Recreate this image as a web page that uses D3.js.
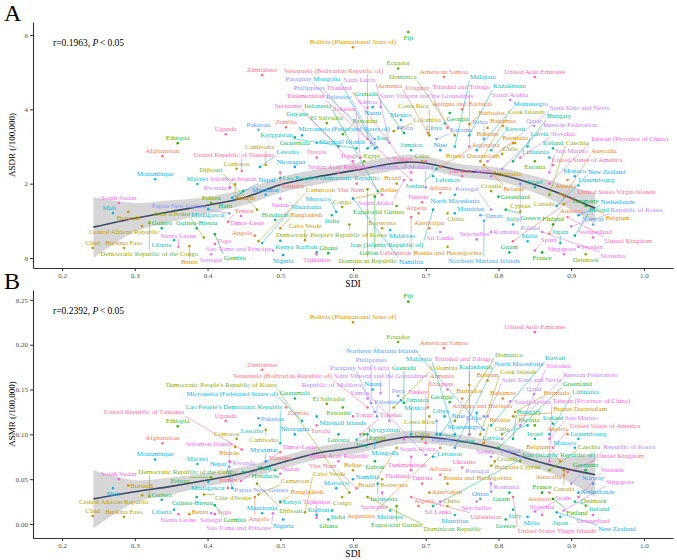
<!DOCTYPE html>
<html><head><meta charset="utf-8">
<script src="https://cdn.jsdelivr.net/npm/d3@7"></script>
<style>body{margin:0;background:#fff}</style>
</head><body>
<script>
const countries = [
"Afghanistan","Albania","Algeria","American Samoa","Andorra","Angola","Antigua and Barbuda","Argentina","Armenia","Australia",
"Austria","Azerbaijan","Bahamas","Bahrain","Bangladesh","Barbados","Belarus","Belgium","Belize","Benin",
"Bermuda","Bhutan","Bolivia (Plurinational State of)","Bosnia and Herzegovina","Botswana","Brazil","Brunei Darussalam","Bulgaria","Burkina Faso","Burundi",
"Cabo Verde","Cambodia","Cameroon","Canada","Central African Republic","Chad","Chile","China","Colombia","Comoros",
"Congo","Cook Islands","Costa Rica","Côte d'Ivoire","Croatia","Cuba","Cyprus","Czechia","Democratic People's Republic of Korea","Democratic Republic of the Congo",
"Denmark","Djibouti","Dominica","Dominican Republic","Ecuador","Egypt","El Salvador","Equatorial Guinea","Eritrea","Estonia",
"Eswatini","Ethiopia","Fiji","Finland","France","Gabon","Gambia","Georgia","Germany","Ghana",
"Greece","Greenland","Grenada","Guam","Guatemala","Guinea","Guinea-Bissau","Guyana","Haiti","Honduras",
"Hungary","Iceland","India","Indonesia","Iran (Islamic Republic of)","Iraq","Ireland","Israel","Italy","Jamaica",
"Japan","Jordan","Kazakhstan","Kenya","Kiribati","Kuwait","Kyrgyzstan","Lao People's Democratic Republic","Latvia","Lebanon",
"Lesotho","Liberia","Libya","Lithuania","Luxembourg","Madagascar","Malawi","Malaysia","Maldives","Mali",
"Malta","Marshall Islands","Mauritania","Mauritius","Mexico","Micronesia (Federated States of)","Monaco","Mongolia","Montenegro","Morocco",
"Mozambique","Myanmar","Namibia","Nauru","Nepal","Netherlands","New Zealand","Nicaragua","Nigeria","Niue",
"North Macedonia","Northern Mariana Islands","Norway","Oman","Pakistan","Palau","Palestine","Panama","Papua New Guinea","Paraguay",
"Peru","Philippines","Poland","Portugal","Qatar","Republic of Korea","Republic of Moldova","Romania","Russian Federation","Rwanda",
"Saint Kitts and Nevis","Saint Lucia","Saint Vincent and the Grenadines","Samoa","San Marino","Sao Tome and Principe","Saudi Arabia","Senegal","Serbia","Seychelles",
"Sierra Leone","Singapore","Slovakia","Slovenia","Solomon Islands","South Africa","South Sudan","Spain","Sri Lanka","Sudan",
"Suriname","Sweden","Switzerland","Syrian Arab Republic","Taiwan (Province of China)","Tajikistan","Thailand","Timor-Leste","Togo","Tokelau",
"Tonga","Trinidad and Tobago","Tunisia","Turkey","Turkmenistan","Tuvalu","Uganda","Ukraine","United Arab Emirates","United Kingdom",
"United Republic of Tanzania","United States of America","United States Virgin Islands","Uruguay","Uzbekistan","Vanuatu","Venezuela (Bolivarian Republic of)","Viet Nam","Yemen","Zambia","Zimbabwe"
];
const sdi = [
0.338,0.72,0.69,0.725,0.87,0.465,0.75,0.72,0.703,0.89,
0.895,0.705,0.806,0.785,0.50,0.76,0.78,0.885,0.60,0.375,
0.823,0.438,0.60,0.73,0.64,0.66,0.82,0.795,0.285,0.291,
0.534,0.48,0.47,0.89,0.31,0.242,0.805,0.73,0.656,0.44,
0.585,0.775,0.705,0.395,0.79,0.695,0.83,0.87,0.595,0.32,
0.92,0.468,0.74,0.62,0.662,0.615,0.564,0.66,0.405,0.85,
0.586,0.359,0.676,0.875,0.86,0.63,0.41,0.733,0.92,0.566,
0.81,0.80,0.67,0.815,0.52,0.337,0.385,0.58,0.449,0.493,
0.82,0.875,0.571,0.634,0.71,0.62,0.905,0.85,0.82,0.68,
0.885,0.715,0.76,0.50,0.55,0.79,0.605,0.50,0.84,0.71,
0.472,0.354,0.726,0.87,0.91,0.401,0.386,0.74,0.651,0.27,
0.84,0.55,0.475,0.74,0.666,0.53,0.905,0.63,0.77,0.577,
0.328,0.48,0.60,0.627,0.434,0.91,0.88,0.52,0.504,0.72,
0.74,0.78,0.93,0.775,0.47,0.78,0.633,0.715,0.43,0.63,
0.662,0.625,0.83,0.79,0.849,0.90,0.70,0.79,0.805,0.431,
0.785,0.65,0.638,0.62,0.87,0.49,0.816,0.405,0.79,0.77,
0.36,0.89,0.83,0.86,0.43,0.67,0.278,0.85,0.72,0.50,
0.64,0.91,0.93,0.58,0.87,0.55,0.68,0.446,0.41,0.61,
0.60,0.76,0.695,0.70,0.68,0.55,0.425,0.75,0.85,0.895,
0.447,0.875,0.82,0.73,0.68,0.50,0.62,0.605,0.428,0.508,0.475
];
const asdr = [
2.74,1.75,1.20,4.87,0.65,0.60,4.00,2.45,3.36,1.65,
2.10,0.80,3.55,3.50,0.80,3.60,2.50,1.72,1.60,0.32,
3.10,1.98,5.67,0.30,0.80,2.00,3.09,2.30,0.27,1.24,
0.48,2.50,0.45,1.45,0.86,0.27,2.80,1.20,3.41,2.40,
1.37,2.60,3.30,0.55,1.80,2.60,1.25,1.70,0.90,0.95,
0.10,1.30,3.30,1.85,5.10,2.60,3.63,1.40,1.48,2.60,
3.33,3.09,6.08,0.90,0.15,1.65,0.64,3.90,1.40,0.13,
1.30,1.65,3.36,0.15,3.25,0.80,0.80,3.00,1.80,1.02,
2.60,2.95,1.15,1.80,1.30,2.95,0.60,1.90,0.90,2.90,
0.40,2.40,3.30,0.46,0.15,2.90,2.95,2.15,3.00,2.20,
2.45,0.48,3.62,2.70,1.95,1.32,1.99,3.00,0.75,1.21,
0.45,3.10,0.40,1.20,3.71,3.30,2.20,2.95,2.90,1.24,
2.12,1.70,1.60,4.06,1.62,1.15,1.40,2.45,0.08,2.90,
1.70,1.00,0.90,1.15,3.45,3.20,2.98,3.20,1.20,3.20,
3.50,3.10,2.00,1.30,3.55,0.85,1.90,0.70,2.40,1.90,
2.60,3.10,4.06,4.05,2.30,0.20,4.25,0.10,2.20,0.50,
0.30,0.10,2.70,0.70,1.88,2.10,1.48,0.20,0.70,1.60,
1.70,0.30,0.55,2.30,2.00,0.10,2.30,1.13,0.38,2.70,
2.60,3.00,1.50,2.60,2.10,2.70,3.33,2.20,4.87,1.10,
2.34,2.50,0.45,3.50,1.10,2.30,3.20,2.00,0.97,3.52,4.92
];
const asmr = [
0.090,0.055,0.020,0.196,0.035,0.030,0.140,0.085,0.130,0.055,
0.100,0.035,0.140,0.160,0.024,0.155,0.090,0.070,0.060,0.011,
0.125,0.086,0.225,0.045,0.050,0.085,0.120,0.070,0.008,0.043,
0.013,0.105,0.033,0.060,0.032,0.009,0.100,0.020,0.130,0.095,
0.030,0.100,0.120,0.033,0.065,0.095,0.070,0.060,0.035,0.031,
0.020,0.045,0.115,0.030,0.203,0.100,0.134,0.020,0.052,0.110,
0.130,0.109,0.248,0.028,0.035,0.070,0.021,0.136,0.060,0.005,
0.005,0.085,0.135,0.035,0.140,0.027,0.030,0.100,0.058,0.060,
0.095,0.112,0.015,0.045,0.020,0.100,0.025,0.095,0.016,0.100,
0.008,0.100,0.100,0.025,0.010,0.110,0.094,0.090,0.110,0.075,
0.110,0.016,0.120,0.100,0.095,0.047,0.067,0.100,0.015,0.040,
0.008,0.120,0.012,0.010,0.138,0.115,0.085,0.090,0.124,0.040,
0.072,0.070,0.050,0.150,0.040,0.035,0.013,0.100,0.005,0.100,
0.085,0.105,0.045,0.028,0.118,0.120,0.120,0.115,0.064,0.125,
0.143,0.135,0.075,0.036,0.145,0.045,0.077,0.045,0.095,0.069,
0.120,0.115,0.146,0.140,0.095,0.012,0.137,0.012,0.075,0.025,
0.011,0.015,0.110,0.010,0.070,0.095,0.050,0.014,0.025,0.056,
0.035,0.030,0.010,0.070,0.070,0.007,0.075,0.048,0.011,0.100,
0.120,0.100,0.045,0.090,0.060,0.110,0.115,0.063,0.214,0.058,
0.083,0.085,0.030,0.150,0.030,0.080,0.130,0.040,0.040,0.130,0.172
];
const xTicks = [0.2,0.3,0.4,0.5,0.6,0.7,0.8,0.9,1.0];
const yTicksA = [0,2,4,6];
const yTicksB = [0,0.05,0.10,0.15,0.20,0.25];
// fitted smooth curves
const fitSdi = [0.243,0.30,0.35,0.40,0.45,0.50,0.55,0.60,0.65,0.675,0.70,0.75,0.80,0.84,0.88,0.933];
const fitA   = [0.83,1.07,1.25,1.42,1.62,1.97,2.18,2.35,2.53,2.58,2.55,2.35,2.25,2.04,1.77,1.34];
const fitALo = [0.00,0.70,0.97,1.20,1.42,1.75,1.97,2.15,2.33,2.40,2.38,2.17,2.07,1.83,1.50,0.94];
const fitAHi = [1.64,1.48,1.55,1.65,1.84,2.18,2.38,2.55,2.72,2.77,2.73,2.52,2.43,2.25,2.04,1.74];
const fitB   = [0.028,0.036,0.042,0.049,0.057,0.068,0.079,0.085,0.094,0.097,0.097,0.092,0.084,0.073,0.064,0.055];
const fitBLo = [-0.005,0.024,0.033,0.042,0.050,0.061,0.072,0.078,0.087,0.090,0.090,0.085,0.077,0.065,0.054,0.030];
const fitBHi = [0.060,0.049,0.052,0.057,0.064,0.075,0.086,0.092,0.101,0.104,0.104,0.099,0.091,0.081,0.074,0.079];

if (![sdi,asdr,asmr].every(a=>a.length===countries.length)) throw new Error("length mismatch");

const W=677,H=560;
const FONT="'Liberation Serif','Times New Roman',Times,serif";
const LF=7;
const svg=d3.select("body").append("svg").attr("width",W).attr("height",H).attr("font-family",FONT);

function hueColor(h){
  const L=65,C=100,Xn=95.047,Yn=100,Zn=108.883;
  const hr=h*Math.PI/180,U=C*Math.cos(hr),V=C*Math.sin(hr);
  const Y=Yn*Math.pow((L+16)/116,3);
  const t=Xn+15*Yn+3*Zn,un=4*Xn/t,vn=9*Yn/t;
  const u=U/(13*L)+un,v=V/(13*L)+vn;
  const X=9*Y*u/(4*v),Z=-X/3-5*Y+3*Y/v;
  const x=X/100,y=Y/100,z=Z/100;
  const lin=[3.240479*x-1.537150*y-0.498535*z,-0.969256*x+1.875992*y+0.041556*z,0.055648*x-0.204043*y+1.057311*z];
  const g=c=>{c=c<=0.0031308?12.92*c:1.055*Math.pow(c,1/2.4)-0.055;return Math.round(255*Math.max(0,Math.min(1,c)));};
  return `rgb(${lin.map(g).join(",")})`;
}
const n=countries.length;
const col=countries.map((c,i)=>hueColor(15+360*i/n));

const x=d3.scaleLinear().domain([0.16,1.04]).range([33,673]);

// greedy non-overlapping label placement (nearest free spot around each point)
function placeLabels(items,B,obstacles){
  const CELL=16,cols=Math.ceil(W/CELL),rows=Math.ceil(H/CELL);
  const grid=Array.from({length:cols*rows},()=>[]);
  const pad=0.3;
  const cellsOf=(x0,y0,x1,y1,fn)=>{
    const a=Math.max(0,Math.floor(x0/CELL)),b=Math.min(cols-1,Math.floor(x1/CELL));
    const c=Math.max(0,Math.floor(y0/CELL)),d=Math.min(rows-1,Math.floor(y1/CELL));
    for(let i=a;i<=b;i++)for(let j=c;j<=d;j++)if(fn(j*cols+i))return true;
    return false;
  };
  const addBox=bx=>cellsOf(bx.x0,bx.y0,bx.x1,bx.y1,c=>{grid[c].push(bx);return false;});
  const hits=(x0,y0,x1,y1)=>cellsOf(x0,y0,x1,y1,c=>{
    for(const b of grid[c]) if(b.x0<x1&&b.x1>x0&&b.y0<y1&&b.y1>y0) return true;
    return false;});
  items.forEach(d=>addBox({x0:d.px-0.8,x1:d.px+0.8,y0:d.py-0.8,y1:d.py+0.8}));
  obstacles.forEach(addBox);
  items.forEach(d=>{d.dens=items.filter(e=>Math.abs(e.px-d.px)<30&&Math.abs(e.py-d.py)<14).length;});
  const order=items.slice().sort((a,b)=>a.dens-b.dens||a.i-b.i);
  for(const d of order){
    const hw=d.w/2,hh=d.h/2;
    let placed=false;
    for(let r=0.8;r<300&&!placed;r+=1){
      const ex=hw+r,ey=hh+r;
      const cands=[];
      for(let t=0;t<=ex;t+=2){for(const s of (t?[1,-1]:[1])){cands.push([d.px+s*t,d.py-ey]);cands.push([d.px+s*t,d.py+ey]);}}
      for(let t=0;t<ey;t+=1.5){for(const s of (t?[1,-1]:[1])){cands.push([d.px+ex,d.py+s*t]);cands.push([d.px-ex,d.py+s*t]);}}
      for(const [cx,cy] of cands){
        const x0=cx-hw,x1=cx+hw,y0=cy-hh,y1=cy+hh;
        if(x0<B.x0||x1>B.x1||y0<B.y0||y1>B.y1)continue;
        if(hits(x0-pad,y0-pad,x1+pad,y1+pad))continue;
        d.x=cx;d.y=cy;placed=true;addBox({x0,x1,y0,y1});break;
      }
    }
    if(!placed){d.x=d.px;d.y=d.py-6;}
  }
}

function drawPanel(o){
  const g=svg.append("g");
  const y=d3.scaleLinear().domain(o.yDom).range([o.bottom,o.top]);
  const idx=d3.range(fitSdi.length);
  g.append("path").datum(idx)
    .attr("d",d3.area().x(i=>x(fitSdi[i])).y0(i=>y(o.lo[i])).y1(i=>y(o.hi[i])).curve(d3.curveCatmullRom))
    .attr("fill","#999999").attr("fill-opacity",0.4);
  g.append("path").datum(idx)
    .attr("d",d3.line().x(i=>x(fitSdi[i])).y(i=>y(o.mid[i])).curve(d3.curveCatmullRom))
    .attr("fill","none").attr("stroke","#3c4a66").attr("stroke-width",1.6);

  const xa=g.append("g").attr("transform",`translate(0,${o.bottom})`)
    .call(d3.axisBottom(x).tickValues(xTicks).tickFormat(d3.format(".1f")).tickSize(3).tickSizeOuter(0).tickPadding(2));
  const ya=g.append("g").attr("transform",`translate(${o.left},0)`)
    .call(d3.axisLeft(y).tickValues(o.yTicks).tickFormat(o.fmt).tickSize(3).tickSizeOuter(0).tickPadding(2));
  [xa,ya].forEach(a=>{
    a.select(".domain").attr("stroke","#333").attr("stroke-width",1.1);
    a.selectAll(".tick line").attr("stroke","#333");
    a.selectAll(".tick text").attr("fill","#4d4d4d").attr("font-size",7).attr("font-family",FONT);
  });

  svg.append("text").attr("x",(33+673)/2).attr("y",o.bottom+19).attr("text-anchor","middle")
    .attr("font-size",9.5).text("SDI");
  svg.append("text").attr("transform",`translate(15,${(o.top+o.bottom)/2}) rotate(-90)`)
    .attr("text-anchor","middle").attr("font-size",9).text(o.ylab);
  svg.append("text").attr("x",4).attr("y",o.letterY).attr("font-size",24).text(o.letter);
  const rt=svg.append("text").attr("x",53).attr("y",o.top+24).attr("font-size",9.5);
  rt.append("tspan").text(o.rtext);
  rt.append("tspan").attr("font-style","italic").text("P");
  rt.append("tspan").text("\u2009<\u20090.05");
  const rb=rt.node().getBBox();

  const items=countries.map((c,i)=>({i,name:c,px:x(sdi[i]),py:y(o.vals[i])}));
  const tmp=g.append("text").attr("font-size",LF);
  items.forEach(d=>{tmp.text(d.name);const bb=tmp.node().getBBox();d.w=bb.width+0.4;d.h=LF*1.09;});
  tmp.remove();
  placeLabels(items,{x0:o.left+2,x1:672,y0:o.top+1,y1:o.bottom-2},
    [{x0:rb.x-2,x1:rb.x+rb.width+2,y0:rb.y-1,y1:rb.y+rb.height+1}]);

  const segs=g.append("g");
  items.forEach(d=>{
    const cx=Math.max(d.x-d.w/2,Math.min(d.x+d.w/2,d.px));
    const cy=Math.max(d.y-d.h/2,Math.min(d.y+d.h/2,d.py));
    if(Math.hypot(cx-d.px,cy-d.py)>3.5){
      segs.append("line").attr("x1",d.px).attr("y1",d.py).attr("x2",cx).attr("y2",cy)
        .attr("stroke",col[d.i]).attr("stroke-width",0.55);
    }
  });
  g.append("g").selectAll("circle").data(items).join("circle")
    .attr("cx",d=>d.px).attr("cy",d=>d.py).attr("r",1.3).attr("fill",d=>col[d.i]);
  g.append("g").selectAll("text").data(items).join("text")
    .attr("x",d=>d.x).attr("y",d=>d.y).attr("dy","0.34em").attr("text-anchor","middle")
    .attr("font-size",LF).attr("fill",d=>col[d.i]).text(d=>d.name);
}

drawPanel({top:22,bottom:268,left:33,yDom:[-0.27,6.35],yTicks:yTicksA,fmt:d3.format("d"),
  vals:asdr,mid:fitA,lo:fitALo,hi:fitAHi,ylab:"ASDR (/100,000)",letter:"A",letterY:21,rtext:"r=0.1963, "});
drawPanel({top:290,bottom:538,left:33,yDom:[-0.0156,0.261],yTicks:yTicksB,fmt:d3.format(".2f"),
  vals:asmr,mid:fitB,lo:fitBLo,hi:fitBHi,ylab:"ASMR (/100,000)",letter:"B",letterY:289,rtext:"r=0.2392, "});
</script>
</body></html>
